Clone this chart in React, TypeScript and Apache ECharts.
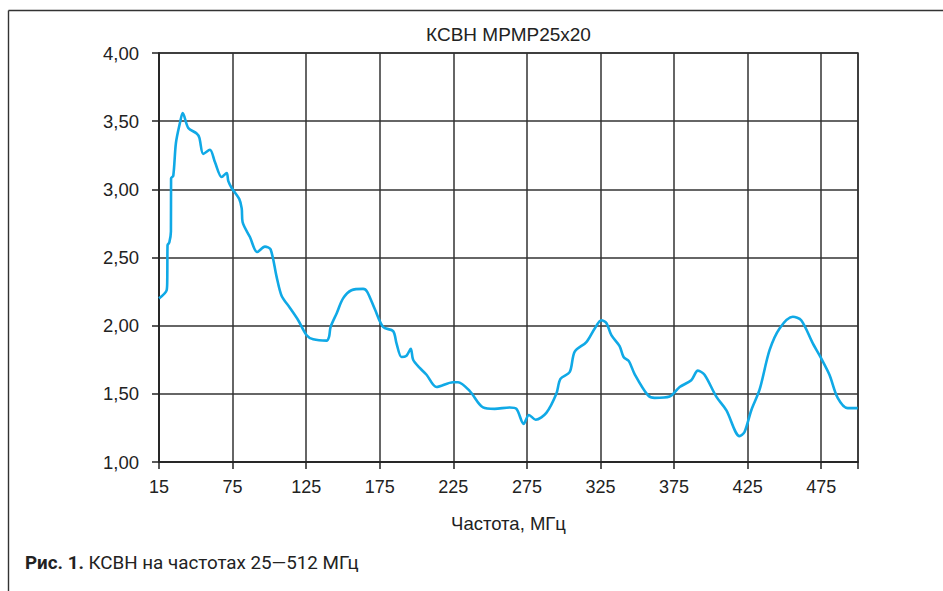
import React, { useEffect, useRef } from "react";
import * as echarts from "echarts";

const freqs: number[] = [
  25, 30.2, 30.6, 30.8, 32.0, 33.1, 33.2, 34.7, 36.5, 39.3, 41.1, 44.9, 50.6, 52.4, 55.1, 59.6, 63.0,
  67.6, 71.0, 72.1, 74.4, 79.5, 81.2, 81.8, 86.8, 91.7, 97.0, 100.8, 104.9, 108.3, 114.0, 119.6,
  125.3, 129.8, 138.9, 140.6, 141.6, 145.7, 150.1, 155.8, 163.7, 166.4, 171.7, 177.3, 184.1, 186.4,
  189.8, 193.2, 196.1, 197.7, 202.2, 206.8, 213.6, 224.8, 228.2, 236.2, 245.2, 253.1, 263.3, 267.9,
  272.8, 276.4, 281.0, 288.2, 295.0, 297.8, 304.1, 307.5, 315.4, 321.1, 325.6, 329.0, 332.4, 338.0,
  340.7, 344.3, 348.2, 357.2, 361.8, 372.0, 378.8, 386.7, 391.2, 395.7, 403.7, 410.5, 419.5, 422.9,
  427.5, 433.1, 439.9, 446.7, 455.7, 461.4, 469.3, 475.0, 480.6, 486.2, 493.0, 499.8,
];

const vswr: number[] = [
  2.2, 2.26, 2.33, 2.59, 2.61, 2.69, 3.08, 3.1, 3.34, 3.49, 3.56, 3.45, 3.41, 3.38, 3.26, 3.29, 3.2,
  3.09, 3.12, 3.06, 3.01, 2.93, 2.86, 2.76, 2.65, 2.54, 2.58, 2.56, 2.36, 2.22, 2.13, 2.04,
  1.93, 1.9, 1.89, 1.92, 1.99, 2.09, 2.2, 2.26, 2.27, 2.25, 2.12, 1.99, 1.96, 1.87,
  1.77, 1.78, 1.83, 1.75, 1.69, 1.64, 1.55, 1.585, 1.585, 1.52, 1.4, 1.39, 1.4, 1.39,
  1.28, 1.345, 1.31, 1.36, 1.5, 1.61, 1.66, 1.81, 1.88, 1.98, 2.04, 2.02, 1.93, 1.85,
  1.77, 1.74, 1.645, 1.49, 1.47, 1.48, 1.55, 1.6, 1.67, 1.64, 1.48, 1.38, 1.19, 1.22,
  1.38, 1.53, 1.82, 1.98, 2.065, 2.04, 1.87, 1.76, 1.64, 1.47, 1.395, 1.395,
];

const xTickLabels: Record<number, string> = {
  25: "15", 75: "75", 125: "125", 175: "175", 225: "225", 275: "275",
  325: "325", 375: "375", 425: "425", 475: "475",
};

const titleText = "КСВН МРМР25х20";
const xAxisName = "Частота, МГц";
const captionBold = "Рис. 1.";
const captionRest = " КСВН на частотах 25—512 МГц";

export default function App() {
  const ref = useRef<HTMLDivElement>(null);
  useEffect(() => {
    if (!ref.current) return;
    const chart = echarts.init(ref.current, undefined, { renderer: "svg" });
    const gridColor = "#333333";
    const font = "'Liberation Sans', Arial, sans-serif";
    chart.setOption({
      animation: false,
      backgroundColor: "#ffffff",
      grid: {
        left: 159,
        top: 53,
        right: 85,
        bottom: 129,
        show: true,
        borderColor: gridColor,
        borderWidth: 1.5,
        containLabel: false,
      },
      xAxis: {
        type: "value",
        min: 25,
        max: 500,
        interval: 50,
        axisLine: { show: true, lineStyle: { color: "#222", width: 1.5 } },
        axisTick: { show: true, length: 7, lineStyle: { color: "#222", width: 1.5 } },
        splitLine: { show: true, lineStyle: { color: gridColor, width: 1.5 } },
        axisLabel: {
          margin: 16,
          fontSize: 18,
          fontFamily: font,
          color: "#222",
          formatter: (v: number) => (xTickLabels[v] !== undefined ? xTickLabels[v] : ""),
        },
      },
      yAxis: {
        type: "value",
        min: 1,
        max: 4,
        interval: 0.5,
        axisLine: { show: true, lineStyle: { color: "#222", width: 1.5 } },
        axisTick: { show: true, length: 7, lineStyle: { color: "#222", width: 1.5 } },
        splitLine: { show: true, lineStyle: { color: gridColor, width: 1.5 } },
        axisLabel: {
          margin: 20,
          fontSize: 18.5,
          fontFamily: font,
          color: "#222",
          formatter: (v: number) => v.toFixed(2).replace(".", ","),
        },
      },
      series: [
        {
          type: "line",
          data: freqs.map((f, i) => [f, vswr[i]]),
          showSymbol: false,
          smooth: 0.3,
          lineStyle: { color: "#10a9e6", width: 2.6 },
        },
      ],
      graphic: [
        { type: "line", shape: { x1: 8.5, y1: 10.5, x2: 943, y2: 10.5 }, style: { stroke: "#333", lineWidth: 1.4 } },
        { type: "line", shape: { x1: 8.5, y1: 10.5, x2: 8.5, y2: 591 }, style: { stroke: "#333", lineWidth: 1.4 } },
        {
          type: "text",
          x: 508.5,
          y: 34,
          style: { text: titleText, fontSize: 19, fontFamily: font, fill: "#222", textAlign: "center", textVerticalAlign: "middle" },
        },
        {
          type: "text",
          x: 508.5,
          y: 523,
          style: { text: xAxisName, fontSize: 18.5, fontFamily: font, fill: "#222", textAlign: "center", textVerticalAlign: "middle" },
        },
        {
          type: "text",
          x: 25,
          y: 563,
          style: {
            text: "{b|" + captionBold + "}{r|" + captionRest + "}",
            rich: {
              b: { fontSize: 18.8, fontFamily: "Roboto, sans-serif", fontWeight: "bold", fill: "#222" },
              r: { fontSize: 18.8, fontFamily: "Roboto, sans-serif", fill: "#222" },
            },
            textAlign: "left",
            textVerticalAlign: "middle",
          },
        },
      ],
    });
    return () => chart.dispose();
  }, []);
  return (
    <div
      ref={ref}
      style={{ position: "fixed", left: 0, top: 0, width: 943, height: 591, background: "#fff" }}
    />
  );
}
